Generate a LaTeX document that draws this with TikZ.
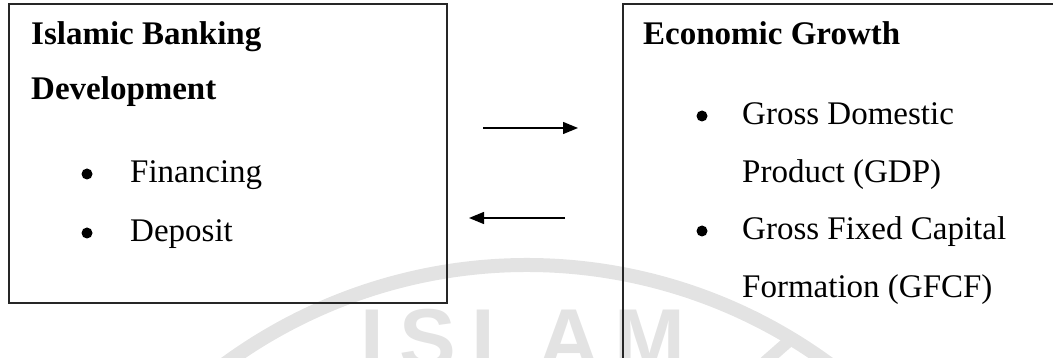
\documentclass[tikz,border=0pt]{standalone}
\usepackage{fontspec}
\setmainfont{Liberation Serif}
\newfontfamily\wmfont[LetterSpace=18]{Liberation Sans}
\usetikzlibrary{arrows.meta}
\begin{document}
\begin{tikzpicture}[x=1pt,y=-1pt,
  boxst/.style={draw=black!85,line width=1.6pt,rectangle,inner sep=0pt},
  txt/.style={anchor=base west,inner sep=0pt,font=\fontsize{33}{33}\selectfont},
  hd/.style={txt,font=\fontsize{33}{33}\selectfont\bfseries},
  bul/.style={circle,fill=black,inner sep=0pt,minimum size=11pt},
  wm/.style={black!11},
  arr/.style={line width=1.3pt,-{Triangle[length=15pt,width=12pt]}}]
\useasboundingbox (0,0) rectangle (1053,358);
\clip (0,0) rectangle (1053,358);
% watermark
\draw[wm,line width=14pt] (527,776) ++(-140:511) arc[start angle=-140,end angle=-40,radius=511];
\draw[wm,line width=12pt,line cap=round] (765,362) -- (790,340);
\node[anchor=base west,inner sep=0pt,text=black!11,font=\wmfont\fontsize{85}{85}\selectfont\bfseries] (wm) at (360,368) {ISLAM};
% boxes
\node[boxst,minimum width=438pt,minimum height=299pt] (lbox) at (228,153.5) {};
\node[boxst,minimum width=457pt,minimum height=396pt] (rbox) at (851.5,202) {};
% left text
\node[hd] (l1) at (31,45) {Islamic Banking};
\node[hd] (l2) at (31,100) {Development};
\node[bul] (lb1) at (87,174) {};
\node[txt] (l3) at (130,183) {Financing};
\node[bul] (lb2) at (87,233) {};
\node[txt] (l4) at (130,242) {Deposit};
% right text
\node[hd] (r1) at (643,45) {Economic Growth};
\node[bul] (rb1) at (702,116) {};
\node[txt] (r2) at (742,125) {Gross Domestic};
\node[txt] (r3) at (742,183) {Product (GDP)};
\node[bul] (rb2) at (702,231) {};
\node[txt] (r4) at (742,240) {Gross Fixed Capital};
\node[txt] (r5) at (742,298) {Formation (GFCF)};
% arrows
\coordinate (a1s) at (483,128);
\coordinate (a1e) at (578,128);
\coordinate (a2s) at (565,218);
\coordinate (a2e) at (469,218);
\draw[arr] (a1s) -- (a1e);
\draw[arr] (a2s) -- (a2e);
\end{tikzpicture}
\end{document}
